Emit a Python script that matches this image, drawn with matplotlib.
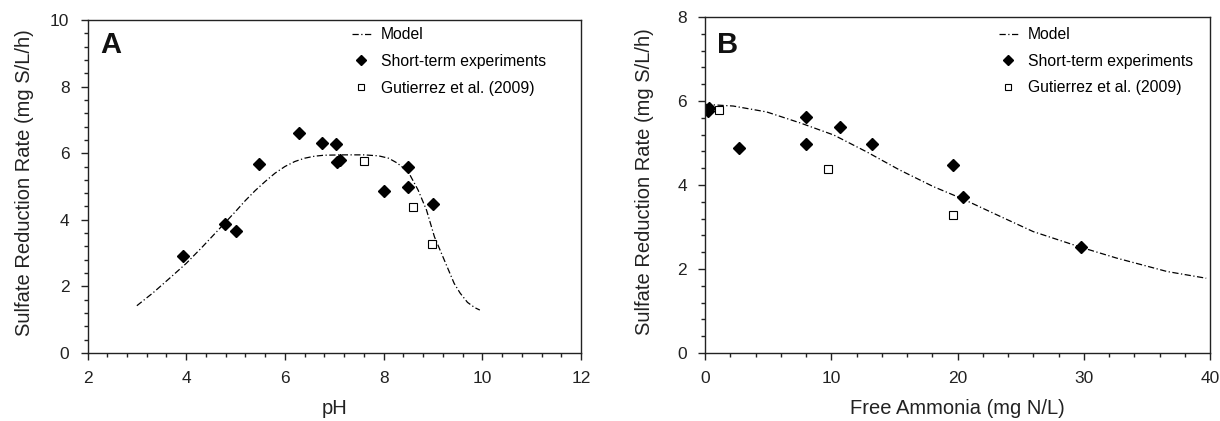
import matplotlib
matplotlib.use('Agg')
import matplotlib.pyplot as plt
from matplotlib.ticker import MultipleLocator

plt.rcParams['font.family'] = ['Liberation Sans', 'DejaVu Sans']

# Panel A: effect of pH
ph_model = [3.0, 3.33, 3.66, 4.0, 4.33, 4.66, 5.0, 5.2, 5.4, 5.6, 5.8, 6.0,
            6.2, 6.4, 6.6, 6.8, 7.2, 7.6, 7.9, 8.1, 8.27, 8.5, 8.7, 8.87,
            9.03, 9.23, 9.43, 9.55, 9.7, 9.85, 9.95]
rate_model_a = [1.42, 1.81, 2.24, 2.69, 3.19, 3.71, 4.25, 4.58, 4.88, 5.15,
                5.40, 5.60, 5.75, 5.85, 5.91, 5.94, 5.95, 5.95, 5.92, 5.85,
                5.71, 5.44, 4.89, 4.29, 3.49, 2.79, 2.09, 1.80, 1.52, 1.36,
                1.29]
ph_short = [3.93, 4.79, 5.0, 5.48, 6.29, 6.75, 7.04, 7.06, 7.12, 8.0, 8.5,
            8.5, 9.01]
rate_short_a = [2.91, 3.87, 3.67, 5.67, 6.6, 6.31, 6.27, 5.74, 5.81, 4.87,
                5.59, 4.97, 4.47]
ph_gut = [7.6, 8.6, 8.99]
rate_gut_a = [5.78, 4.37, 3.27]

# Panel B: effect of free ammonia
fa_model = [0.0, 2.24, 4.88, 7.52, 10.2, 12.8, 15.4, 18.1, 20.4, 23.4, 26.0,
            29.75, 32.6, 36.6, 39.7]
rate_model_b = [5.92, 5.88, 5.74, 5.48, 5.19, 4.79, 4.36, 3.96, 3.67, 3.25,
                2.89, 2.52, 2.26, 1.94, 1.78]
fa_short = [0.25, 0.35, 2.72, 8.0, 8.0, 10.7, 13.2, 19.67, 20.4, 29.75]
rate_short_b = [5.76, 5.84, 4.89, 5.62, 4.97, 5.39, 4.97, 4.48, 3.72, 2.52]
fa_gut = [1.1, 9.77, 19.67]
rate_gut_b = [5.79, 4.38, 3.28]

fig = plt.figure(figsize=(12.2, 4.21), dpi=100)
ax_a = fig.add_axes([87.5 / 1220, 68 / 421, 493.5 / 1220, 333 / 421])
ax_b = fig.add_axes([705 / 1220, 68 / 421, 505 / 1220, 336 / 421])

dash = (0, (5, 2, 1, 2))


def draw_panel(ax, xm, ym, xs, ys, xg, yg):
    ax.plot(xm, ym, color='black', lw=0.9, linestyle=dash, label='Model')
    ax.plot(xs, ys, linestyle='none', marker='D', markersize=6,
            color='black', label='Short-term experiments')
    ax.plot(xg, yg, linestyle='none', marker='s', markersize=6,
            markerfacecolor='white', markeredgecolor='black',
            markeredgewidth=0.8, label='Gutierrez et al. (2009)')
    for s in ax.spines.values():
        s.set_linewidth(1.0)
        s.set_color('#222222')
    ax.tick_params(which='both', direction='out', top=False, right=False,
                   color='#222222', width=1.0)
    ax.tick_params(which='major', length=5, pad=8, labelsize=12.5,
                   labelcolor='#222222')
    ax.tick_params(which='minor', length=3)


draw_panel(ax_a, ph_model, rate_model_a, ph_short, rate_short_a,
           ph_gut, rate_gut_a)
ax_a.set_xlim(2, 12)
ax_a.set_ylim(0, 10)
ax_a.xaxis.set_major_locator(MultipleLocator(2))
ax_a.xaxis.set_minor_locator(MultipleLocator(0.4))
ax_a.yaxis.set_major_locator(MultipleLocator(2))
ax_a.yaxis.set_minor_locator(MultipleLocator(0.4))
ax_a.set_xlabel('pH', fontsize=14.5, color='#222222')
ax_a.set_ylabel('Sulfate Reduction Rate (mg S/L/h)', fontsize=14.5,
                color='#222222')
ax_a.xaxis.set_label_coords(0.5, -0.138)
ax_a.yaxis.set_label_coords(-0.108, 0.513)
ax_a.text(0.025, 0.9, 'A', transform=ax_a.transAxes, fontsize=21,
          fontweight='bold', va='baseline', color='#111111')
ax_a.legend(loc='upper left', bbox_to_anchor=(0.536, 0.978), frameon=False,
            fontsize=11.3, borderpad=0, borderaxespad=0, labelspacing=0.74,
            handlelength=1.2, handletextpad=0.65, markerscale=0.8)

draw_panel(ax_b, fa_model, rate_model_b, fa_short, rate_short_b,
           fa_gut, rate_gut_b)
ax_b.set_xlim(0, 40)
ax_b.set_ylim(0, 8)
ax_b.xaxis.set_major_locator(MultipleLocator(10))
ax_b.xaxis.set_minor_locator(MultipleLocator(2))
ax_b.yaxis.set_major_locator(MultipleLocator(2))
ax_b.yaxis.set_minor_locator(MultipleLocator(0.4))
ax_b.set_xlabel('Free Ammonia (mg N/L)', fontsize=14.5, color='#222222')
ax_b.set_ylabel('Sulfate Reduction Rate (mg S/L/h)', fontsize=14.5,
                color='#222222')
ax_b.xaxis.set_label_coords(0.5, -0.137)
ax_b.yaxis.set_label_coords(-0.101, 0.509)
ax_b.text(0.024, 0.893, 'B', transform=ax_b.transAxes, fontsize=21,
          fontweight='bold', va='baseline', color='#111111')
ax_b.legend(loc='upper left', bbox_to_anchor=(0.582, 0.97), frameon=False,
            fontsize=11.3, borderpad=0, borderaxespad=0, labelspacing=0.74,
            handlelength=1.2, handletextpad=0.65, markerscale=0.8)

fig.savefig('out.png', dpi=100)
